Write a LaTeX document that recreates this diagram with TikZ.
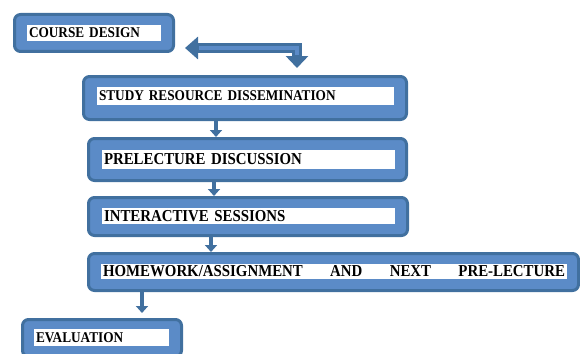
\documentclass[tikz,border=0pt]{standalone}
\usepackage{fontspec}
\setmainfont[FakeStretch=0.89]{Liberation Serif}
\usepackage{tikz}
\usetikzlibrary{arrows.meta}
\usepackage{xcolor}
\definecolor{boxfill}{HTML}{5B8BC7}
\definecolor{boxline}{HTML}{41709F}

\begin{document}
\begin{tikzpicture}[x=1pt, y=-1pt,
  stage/.style={draw=boxline, fill=boxfill, line width=3pt, rounded corners=6pt, inner sep=0pt},
  tagbox/.style={fill=white, inner xsep=2pt, inner ysep=0pt, align=left, font=\bfseries\fontsize{14.9}{16}\selectfont},
  tagbig/.style={tagbox, font=\bfseries\fontsize{16.7}{18}\selectfont},
  flow/.style={draw=boxline, line width=4pt, -{Triangle[width=12pt,length=7pt]}}]
\useasboundingbox (0,0) rectangle (580,353);

% Boxes
\node[stage, minimum width=159pt, minimum height=37pt] (course) at (94,33) {};
\node[tagbox, text width=130pt, minimum height=16pt] (courseT) at (94,33) {COURSE DESIGN};

\node[stage, minimum width=323pt, minimum height=43pt] (study) at (245,98) {};
\node[tagbox, text width=293pt, minimum height=18pt] (studyT) at (245.5,96) {STUDY RESOURCE DISSEMINATION};

\node[stage, minimum width=318pt, minimum height=42pt] (prelec) at (247.5,159.5) {};
\node[tagbig, text width=289pt, minimum height=19pt] (prelecT) at (248.5,159.5) {PRELECTURE DISCUSSION};

\node[stage, minimum width=319pt, minimum height=38pt] (inter) at (248,216.5) {};
\node[tagbig, text width=289pt, minimum height=16pt] (interT) at (248.5,216) {INTERACTIVE SESSIONS};

\node[stage, minimum width=490pt, minimum height=37pt] (home) at (333.5,272) {};
\node[tagbig, text width=462pt, minimum height=15pt] (homeT) at (334,271.5)
  {\makebox[\linewidth][s]{HOMEWORK/ASSIGNMENT\hfill AND\hfill NEXT\hfill PRE-LECTURE}};

\node[stage, minimum width=159pt, minimum height=37pt] (eval) at (102,338) {};
\node[tagbox, text width=131pt, minimum height=17pt] (evalT) at (101.5,337.5) {EVALUATION};

% Bent double arrow from course design
\draw[boxline, line width=10pt, line join=miter,
  {Triangle[width=22pt,length=13pt]}-{Triangle[width=22pt,length=12pt]},
  shorten <=10pt, shorten >=7pt] ([yshift=-15pt]course.east) -| ([xshift=52pt]study.north);
\draw[boxfill, line width=4pt, shorten <=24pt, shorten >=20pt]
  ([yshift=-15pt]course.east) -| ([xshift=52pt]study.north);

% Flow arrows
\draw[flow] ([xshift=-29pt]study.south) -- ([xshift=-29pt]study.south |- prelec.north);
\draw[flow] ([xshift=-33.5pt]prelec.south) -- ([xshift=-33.5pt]prelec.south |- inter.north);
\draw[flow] ([xshift=-37pt]inter.south) -- ([xshift=-37pt]inter.south |- home.north);
\draw[flow, shorten >=5pt] ([xshift=40pt]eval.north |- home.south) -- ([xshift=40pt]eval.north);
\end{tikzpicture}
\end{document}
